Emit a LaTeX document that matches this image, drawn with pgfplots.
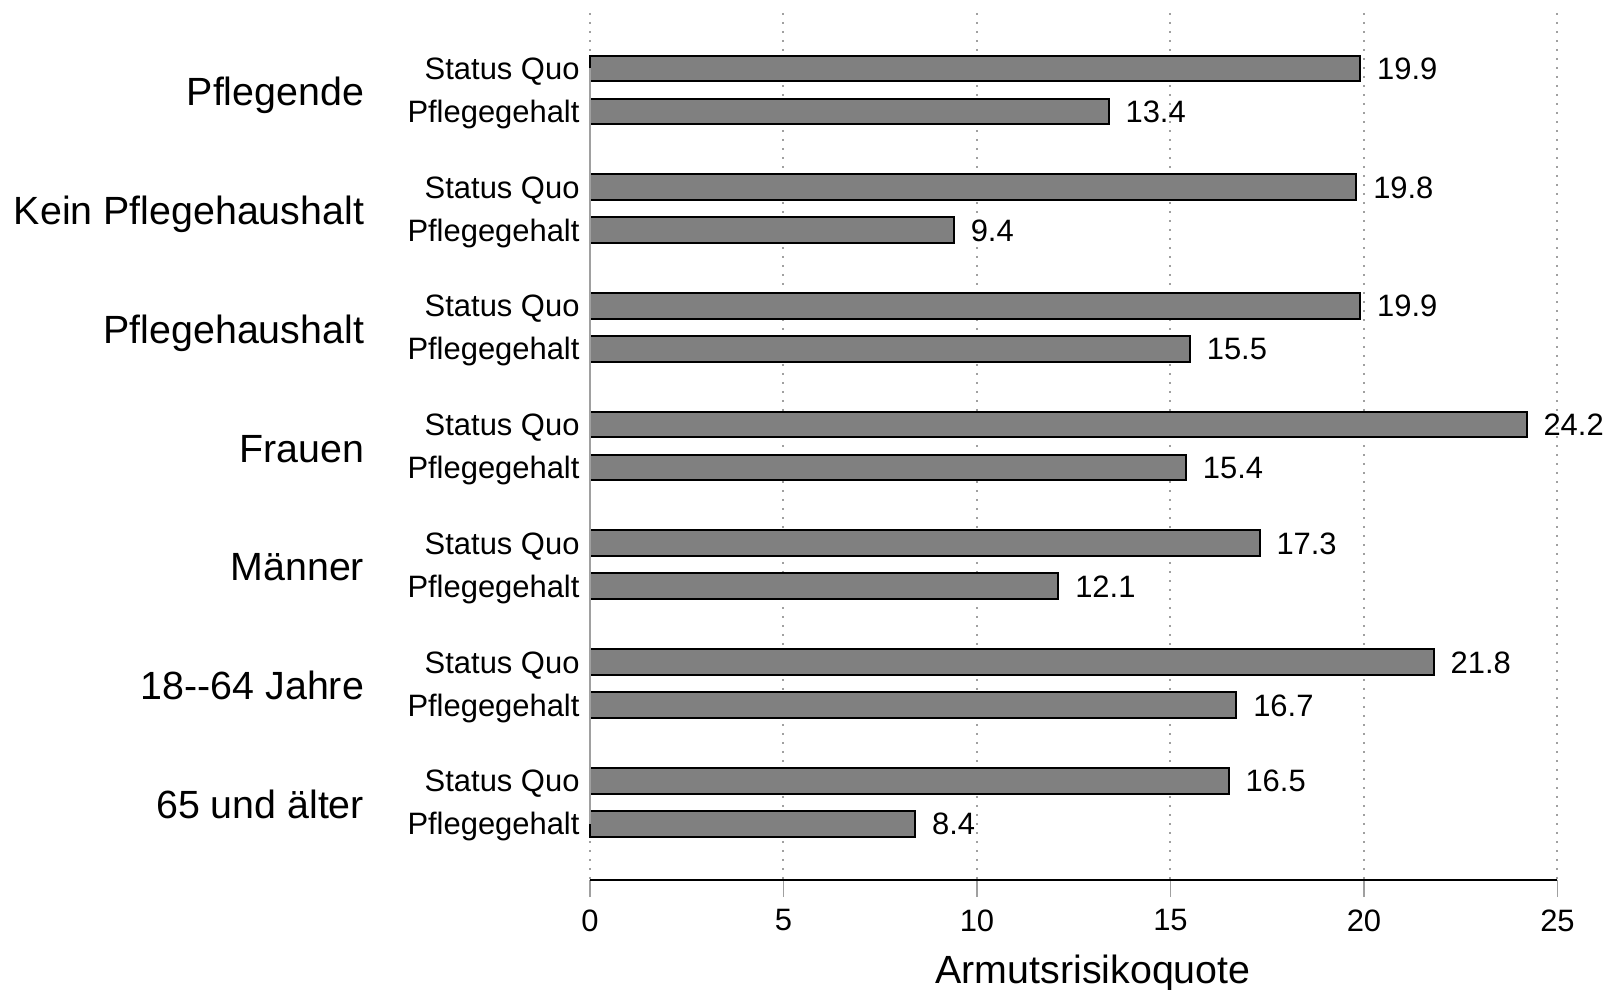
\documentclass[border=0pt]{standalone}
\usepackage{fontspec}
\setmainfont{Liberation Sans}
\usepackage{pgfplots}
\pgfplotsset{compat=1.18}
\definecolor{barfill}{RGB}{128,128,128}
\definecolor{gridc}{RGB}{160,160,160}
\newcommand{\smallf}{\fontsize{8.8}{10.5}\selectfont}
\newcommand{\bigf}{\fontsize{11.2}{13.4}\selectfont}
\begin{document}
\begin{tikzpicture}
\useasboundingbox (-59mm,-11mm) rectangle (101.4mm,88mm);
\begin{axis}[
  at={(0,0)}, anchor=south west,
  scale only axis,
  width=96.75mm, height=86.7mm,
  xmin=0, xmax=25,
  ymin=13, ymax=880,
  y dir=reverse,
  axis lines*=left,
  x axis line style={black, line width=0.2mm},
  y axis line style={draw=none},
  xtick={0,5,10,15,20,25},
  tick align=outside,
  major tick length=1.7mm,
  xtick style={gridc, line width=0.18mm},
  ytick style={draw=none},
  xmajorgrids,
  grid style={gridc, line width=0.2mm, dash pattern=on 0.25mm off 0.65mm},
  ytick={68.5,111.5,187.2,230.2,305.9,348.9,424.6,467.6,543.3,586.3,662.0,705.0,780.7,823.7},
  yticklabels={Status Quo,Pflegegehalt,Status Quo,Pflegegehalt,Status Quo,Pflegegehalt,Status Quo,Pflegegehalt,Status Quo,Pflegegehalt,Status Quo,Pflegegehalt,Status Quo,Pflegegehalt},
  yticklabel style={font=\smallf, anchor=base east, inner sep=0pt, xshift=0.72mm, yshift=-1.1mm},
  xticklabel style={font=\smallf},
  /pgf/number format/assume math mode=true,
  xbar, bar width=25.7, bar shift=0pt,
  nodes near coords,
  nodes near coords style={font=\smallf, anchor=base west, inner sep=0pt, xshift=1.6mm, yshift=-1.1mm,
    /pgf/number format/fixed, /pgf/number format/fixed zerofill, /pgf/number format/precision=1},
  clip=false,
]
\addplot[draw=black, line width=0.2mm, fill=barfill] coordinates {
 (19.9,68.5) (19.8,187.2) (19.9,305.9) (24.2,424.6) (17.3,543.3) (21.8,662.0) (16.5,780.7)};
\addplot[draw=black, line width=0.2mm, fill=barfill] coordinates {
 (13.4,111.5) (9.4,230.2) (15.5,348.9) (15.4,467.6) (12.1,586.3) (16.7,705.0) (8.4,823.7)};
\draw[gridc, line width=0.25mm] (axis cs:0,68.5) -- (axis cs:0,823.7);
\node[font=\bigf, anchor=base east, inner sep=0pt] at (axis cs:-5.82,106.0) {Pflegende};
\node[font=\bigf, anchor=base east, inner sep=0pt] at (axis cs:-5.82,224.7) {Kein Pflegehaushalt};
\node[font=\bigf, anchor=base east, inner sep=0pt] at (axis cs:-5.82,343.4) {Pflegehaushalt};
\node[font=\bigf, anchor=base east, inner sep=0pt] at (axis cs:-5.82,462.1) {Frauen};
\node[font=\bigf, anchor=base east, inner sep=0pt] at (axis cs:-5.82,580.8) {Männer};
\node[font=\bigf, anchor=base east, inner sep=0pt] at (axis cs:-5.82,699.5) {18-{}-64 Jahre};
\node[font=\bigf, anchor=base east, inner sep=0pt] at (axis cs:-5.82,818.2) {65 und älter};
\node[font=\bigf, anchor=base, inner sep=0pt] at (axis cs:13.0,983) {Armutsrisikoquote};
\end{axis}
\end{tikzpicture}
\end{document}
